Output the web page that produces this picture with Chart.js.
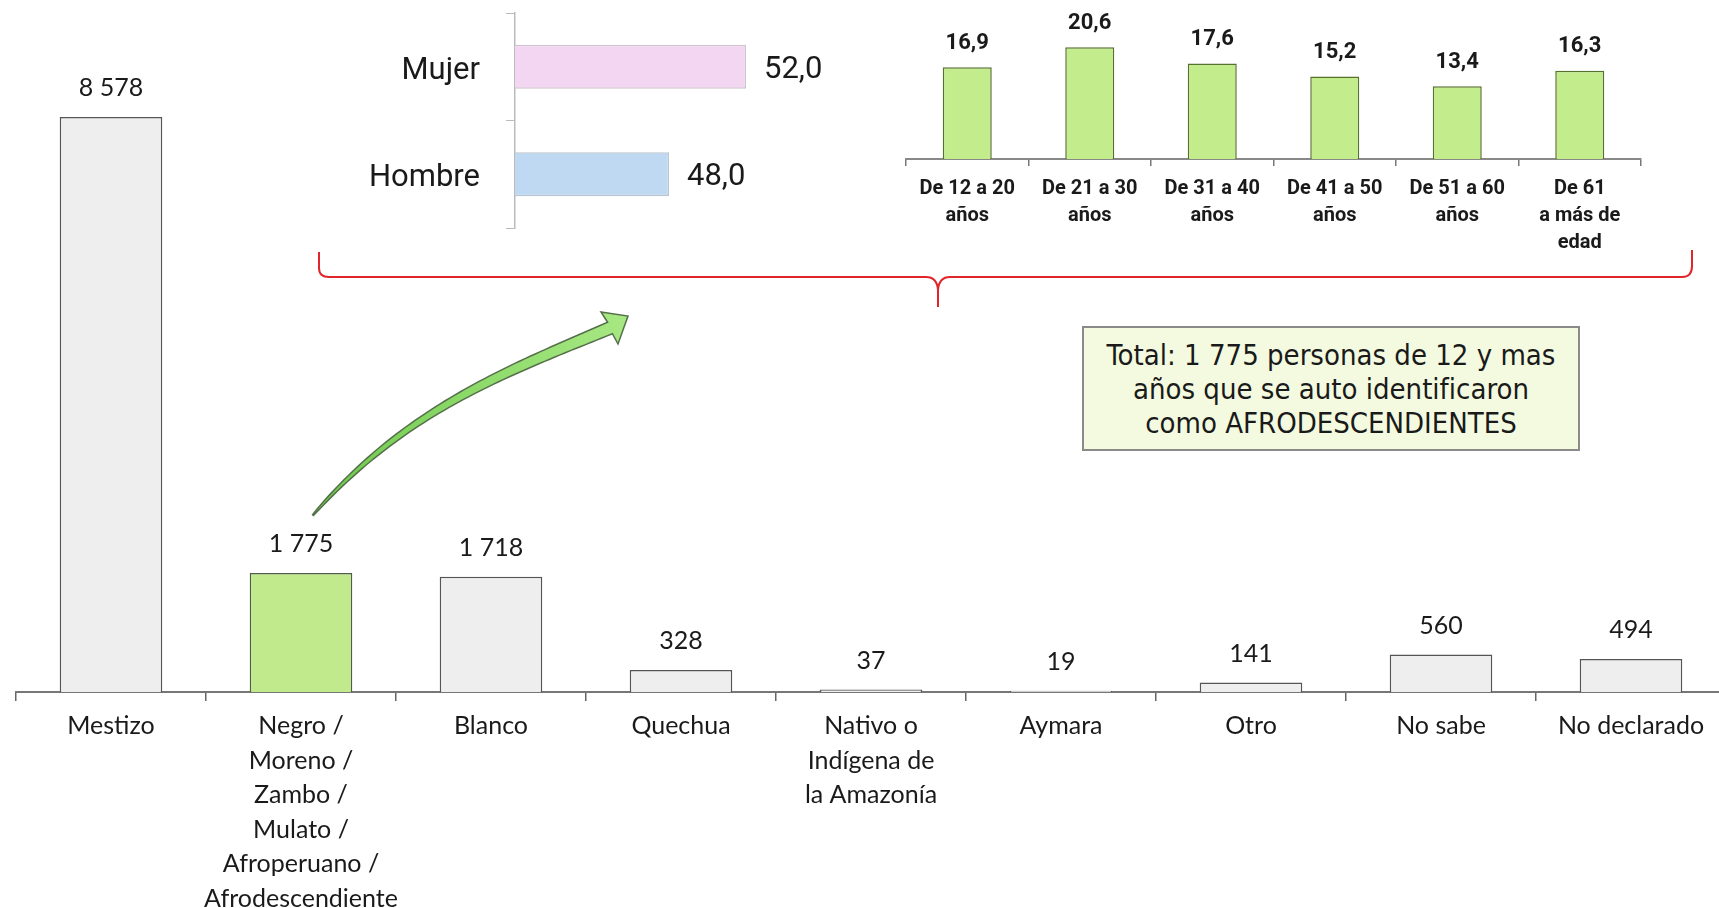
<!DOCTYPE html>
<html lang="es">
<head>
<meta charset="utf-8">
<title>Autoidentificación étnica</title>
<script src="https://cdn.jsdelivr.net/npm/chart.js@4.4.1/dist/chart.umd.min.js"></script>
<style>
  html, body { margin: 0; padding: 0; background: #fff; overflow: hidden; width: 1719px; height: 908px; }
  canvas { position: absolute; }
  #cMain { left: 0; top: 0; }
  #cSexo { left: 330px; top: 0; }
  #cEdad { left: 880px; top: 0; }
  #nota {
    position: absolute; left: 1082px; top: 326px; width: 494px; height: 121px;
    background: #f4fae0; border: 2px solid #8a8a8a;
    font-family: "DejaVu Sans Condensed", "DejaVu Sans", sans-serif; font-size: 29px;
    line-height: 34px; color: #1a1a1a; text-align: center;
    display: flex; align-items: center; justify-content: center;
  }
</style>
</head>
<body>
<canvas id="cMain" width="1728" height="908"></canvas>
<canvas id="cSexo" width="520" height="240"></canvas>
<canvas id="cEdad" width="800" height="260"></canvas>
<div id="nota">Total: 1 775 personas de 12 y mas<br>años que se auto identificaron<br>como AFRODESCENDIENTES</div>
<script>
// datos
const categorias = [
  ["Mestizo"],
  ["Negro /", "Moreno /", "Zambo /", "Mulato /", "Afroperuano /", "Afrodescendiente"],
  ["Blanco"],
  ["Quechua"],
  ["Nativo o", "Indígena de", "la Amazonía"],
  ["Aymara"],
  ["Otro"],
  ["No sabe"],
  ["No declarado"]
];
const personas = [8578, 1775, 1718, 328, 37, 19, 141, 560, 494];

const sexoLabels = ["Mujer", "Hombre"];
const sexoPct = [52.0, 48.0];

const edadLabels = [
  ["De 12 a 20", "años"],
  ["De 21 a 30", "años"],
  ["De 31 a 40", "años"],
  ["De 41 a 50", "años"],
  ["De 51 a 60", "años"],
  ["De 61", "a más de", "edad"]
];
const edadPct = [16.9, 20.6, 17.6, 15.2, 13.4, 16.3];

const fMain = "Lato, 'Open Sans', sans-serif";
const fNarrow = "Roboto, 'Liberation Sans', sans-serif";

const miles = v => String(v).replace(/\B(?=(\d{3})+(?!\d))/g, " ");
const coma = v => v.toFixed(1).replace(".", ",");

// etiquetas de valor sobre las barras
const valueLabels = {
  id: "valueLabels",
  afterDatasetsDraw(chart, args, opts) {
    const ctx = chart.ctx;
    const meta = chart.getDatasetMeta(0);
    const data = chart.data.datasets[0].data;
    const dy = opts.dy || 0;
    ctx.save();
    ctx.font = opts.font;
    ctx.fillStyle = opts.color;
    ctx.textBaseline = "middle";
    meta.data.forEach((bar, i) => {
      const txt = opts.format(data[i]);
      if (opts.horizontal) {
        ctx.textAlign = "left";
        ctx.fillText(txt, bar.x + opts.offset, bar.y + dy);
      } else {
        ctx.textAlign = "center";
        ctx.fillText(txt, bar.x, bar.y - opts.offset + dy);
      }
    });
    ctx.restore();
  }
};

// llave roja y flecha verde
const adornos = {
  id: "adornos",
  afterDraw(chart) {
    const ctx = chart.ctx;
    ctx.save();
    // llave
    ctx.strokeStyle = "#e0262a";
    ctx.lineWidth = 2;
    ctx.beginPath();
    ctx.moveTo(319, 252);
    ctx.lineTo(319, 268);
    ctx.quadraticCurveTo(319, 277, 329, 277);
    ctx.lineTo(926, 277);
    ctx.quadraticCurveTo(937, 277, 938, 290);
    ctx.lineTo(938, 307);
    ctx.moveTo(938, 290);
    ctx.quadraticCurveTo(939, 277, 950, 277);
    ctx.lineTo(1682, 277);
    ctx.quadraticCurveTo(1692, 277, 1692, 266);
    ctx.lineTo(1692, 250);
    ctx.stroke();

    // flecha curva
    const P0 = [313, 515], C1 = [405, 410], C2 = [505, 372], P3 = [610, 328];
    const pt = t => {
      const u = 1 - t;
      return [
        u*u*u*P0[0] + 3*u*u*t*C1[0] + 3*u*t*t*C2[0] + t*t*t*P3[0],
        u*u*u*P0[1] + 3*u*u*t*C1[1] + 3*u*t*t*C2[1] + t*t*t*P3[1]
      ];
    };
    const top = [], bot = [];
    const N = 60;
    for (let i = 0; i <= N; i++) {
      const t = i / N;
      const a = pt(Math.max(0, t - 0.01)), b = pt(Math.min(1, t + 0.01));
      let dx = b[0] - a[0], dy = b[1] - a[1];
      const len = Math.hypot(dx, dy);
      dx /= len; dy /= len;
      const w = 0.6 + 5.6 * Math.pow(t, 0.7);
      const p = pt(t);
      top.push([p[0] + dy * w, p[1] - dx * w]);
      bot.push([p[0] - dy * w, p[1] + dx * w]);
    }
    const grad = ctx.createLinearGradient(313, 515, 628, 316);
    grad.addColorStop(0, "#6cc94a");
    grad.addColorStop(1, "#a8e884");
    ctx.beginPath();
    ctx.moveTo(top[0][0], top[0][1]);
    top.forEach(p => ctx.lineTo(p[0], p[1]));
    ctx.lineTo(601, 312);
    ctx.lineTo(628, 316);
    ctx.lineTo(618, 344);
    for (let i = bot.length - 1; i >= 0; i--) ctx.lineTo(bot[i][0], bot[i][1]);
    ctx.closePath();
    ctx.fillStyle = grad;
    ctx.fill();
    ctx.strokeStyle = "#55704a";
    ctx.lineWidth = 1.5;
    ctx.stroke();
    ctx.restore();
  }
};

// gráfico principal
new Chart(document.getElementById("cMain"), {
  type: "bar",
  data: {
    labels: categorias,
    datasets: [{
      data: personas,
      backgroundColor: personas.map((v, i) => i === 1 ? "#c0ea8c" : "#eeeeee"),
      borderColor: personas.map((v, i) => i === 1 ? "#4f5e45" : "#555555"),
      borderWidth: 1.5,
      barPercentage: 0.54,
      categoryPercentage: 1
    }]
  },
  options: {
    responsive: false,
    animation: false,
    layout: { padding: { top: 60, left: 16, right: 2, bottom: 0 } },
    plugins: {
      legend: { display: false },
      tooltip: { enabled: false },
      valueLabels: { font: "25px " + fMain, color: "#1a1a1a", offset: 29, format: miles }
    },
    scales: {
      x: {
        offset: true,
        grid: { drawOnChartArea: false, drawTicks: true, tickLength: 9, color: "#666", lineWidth: 1.5 },
        border: { display: true, color: "#777", width: 2 },
        ticks: {
          font: { family: fMain, size: 25, lineHeight: 1.38 },
          color: "#1a1a1a", padding: 8, maxRotation: 0, autoSkip: false
        },
        afterFit(s) { s.height = 216; }
      },
      y: { display: false, min: 0, max: 9428 }
    }
  },
  plugins: [valueLabels, adornos]
});

// sexo
new Chart(document.getElementById("cSexo"), {
  type: "bar",
  data: {
    labels: sexoLabels,
    datasets: [{
      data: sexoPct,
      backgroundColor: ["#f2d6f2", "#bfd9f3"],
      borderColor: ["#cfc4cf", "#b9c6d2"],
      borderWidth: 1.5,
      barPercentage: 0.41,
      categoryPercentage: 1
    }]
  },
  options: {
    indexAxis: "y",
    responsive: false,
    animation: false,
    layout: { padding: { top: 13, bottom: 12, right: 27, left: 0 } },
    plugins: {
      legend: { display: false },
      tooltip: { enabled: false },
      valueLabels: { font: "31px " + fNarrow, color: "#1a1a1a", offset: 18, dy: 3, horizontal: true, format: coma }
    },
    scales: {
      x: { display: false, min: 40, max: 56 },
      y: {
        offset: true,
        grid: { drawOnChartArea: false, drawTicks: true, tickLength: 9, color: "#bbb" },
        border: { display: true, color: "#bbb", width: 1.5 },
        ticks: { font: { family: fNarrow, size: 31 }, color: "#1a1a1a", padding: 26, labelOffset: 4 },
        afterFit(s) { s.width = 185; s.paddingTop = 0; s.paddingBottom = 0; }
      }
    }
  },
  plugins: [valueLabels]
});

// grupos de edad
new Chart(document.getElementById("cEdad"), {
  type: "bar",
  data: {
    labels: edadLabels,
    datasets: [{
      data: edadPct,
      backgroundColor: "#c3ec8d",
      borderColor: "#56702e",
      borderWidth: 1.5,
      barPercentage: 0.4,
      categoryPercentage: 1
    }]
  },
  options: {
    responsive: false,
    animation: false,
    layout: { padding: { top: 24, left: 26, right: 39, bottom: 0 } },
    plugins: {
      legend: { display: false },
      tooltip: { enabled: false },
      valueLabels: { font: "bold 22px " + fNarrow, color: "#1a1a1a", offset: 26, dy: 2, format: coma }
    },
    scales: {
      x: {
        offset: true,
        grid: { drawOnChartArea: false, drawTicks: true, tickLength: 7, color: "#777", lineWidth: 1.5 },
        border: { display: true, color: "#888", width: 2 },
        ticks: {
          font: { family: fNarrow, size: 20, weight: "bold", lineHeight: 1.35 },
          color: "#1a1a1a", padding: 9, maxRotation: 0, autoSkip: false
        },
        afterFit(s) { s.height = 101; }
      },
      y: { display: false, min: 0, max: 24.9 }
    }
  },
  plugins: [valueLabels]
});
</script>
</body>
</html>
